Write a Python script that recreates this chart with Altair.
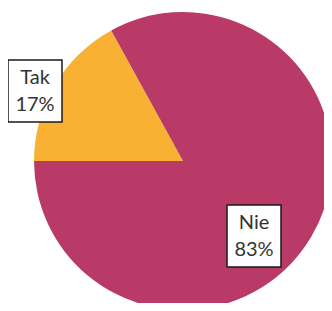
import math
import altair as alt
import pandas as pd

# data
categories = ["Tak", "Nie"]
values = [17, 83]
colors = ["#F8B133", "#B93A67"]

df = pd.DataFrame({"kategoria": categories, "procent": values, "idx": [0, 1]})

# label annotation layout (chart pixel space)
box_cx = [27, 246]
box_cy = [83, 228]
box_w, box_h = 54, 62
labels = pd.DataFrame({
    "kategoria": categories,
    "txt": [f"{c}\n{v}%" for c, v in zip(categories, values)],
    "x": [x - box_w / 2 for x in box_cx],
    "x2": [x + box_w / 2 for x in box_cx],
    "y": [y - box_h / 2 for y in box_cy],
    "y2": [y + box_h / 2 for y in box_cy],
    "cx": box_cx,
    "cy": box_cy,
})

start = 1.5 * math.pi
pie = alt.Chart(df).mark_arc(outerRadius=149, stroke=None).encode(
    theta=alt.Theta("procent:Q", stack=True,
                    scale=alt.Scale(range=[start, start + 2 * math.pi])),
    color=alt.Color("kategoria:N", scale=alt.Scale(domain=categories, range=colors), legend=None),
    order=alt.Order("idx:Q"),
    x=alt.value(175),
    y=alt.value(153),
)

boxes = alt.Chart(labels).mark_rect(fill="white", stroke="#1a1a1a", strokeWidth=1.5).encode(
    x=alt.X("x:Q", scale=None),
    x2="x2:Q",
    y=alt.Y("y:Q", scale=None),
    y2="y2:Q",
)

texts = alt.Chart(labels).mark_text(
    font="Lato", fontSize=20, color="#333333", lineBreak="\n", lineHeight=27,
    align="center", baseline="middle", dy=-13,
).encode(
    x=alt.X("cx:Q", scale=None),
    y=alt.Y("cy:Q", scale=None),
    text="txt:N",
)

chart = alt.layer(pie, boxes, texts).properties(
    width=316, height=295, padding=0,
    autosize=alt.AutoSizeParams(type="none"),
).configure_view(stroke=None)

chart.save("out.html", embed_options={"renderer": "svg", "actions": False})
